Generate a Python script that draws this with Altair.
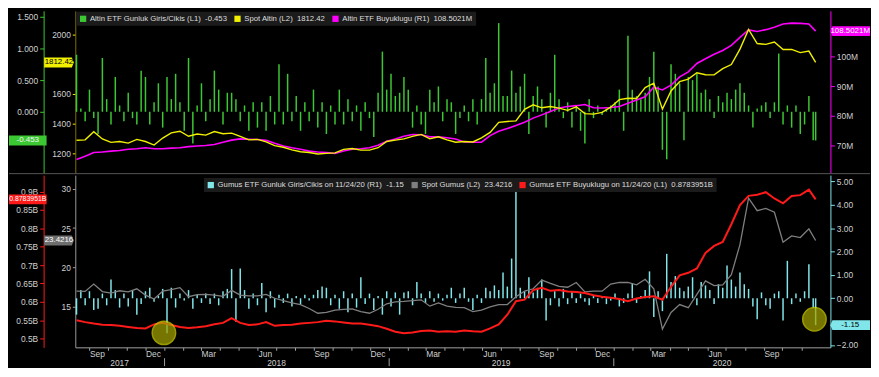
import altair as alt
import pandas as pd

# ---------------- data ----------------
series_start = "2017-08-11"
last_day = "2020-11-24"

# bi-weekly line values (last entry = 2020-11-24)
gold_spot = [1288, 1291, 1346, 1297, 1274, 1280, 1269, 1294, 1280, 1256,
             1303, 1338, 1349, 1315, 1330, 1323, 1347, 1332, 1336, 1314,
             1291, 1294, 1278, 1252, 1241, 1223, 1211, 1206, 1196, 1200,
             1203, 1227, 1233, 1222, 1222, 1238, 1280, 1289, 1298, 1314,
             1328, 1298, 1312, 1291, 1275, 1280, 1277, 1305, 1341, 1409,
             1415, 1419, 1497, 1527, 1507, 1516, 1505, 1490, 1514, 1468,
             1464, 1476, 1511, 1562, 1571, 1570, 1643, 1673, 1498, 1620,
             1683, 1700, 1743, 1730, 1729, 1771, 1798, 1902, 2035, 1940,
             1934, 1950, 1900, 1900, 1879, 1889, 1812.42]
gold_etf = [65.3, 66.4, 67.6, 67.8, 68.1, 68.3, 68.7, 68.9, 69.2, 68.9,
            68.9, 69.1, 69.2, 69.6, 69.8, 70.0, 70.3, 71.1, 71.8, 72.2,
            72.1, 72.0, 71.7, 70.7, 69.8, 69.2, 68.7, 68.1, 67.8, 67.6,
            67.3, 68.1, 68.7, 68.9, 69.2, 70.1, 71.4, 72.2, 73.1, 73.7,
            73.6, 72.9, 72.9, 72.6, 72.2, 71.2, 71.1, 71.1, 73.3, 74.8,
            75.7, 76.7, 77.8, 79.2, 80.3, 81.4, 82.6, 83.1, 83.4, 83.8,
            82.7, 82.6, 82.8, 83.1, 84.2, 85.3, 86.4, 89.6, 88.7, 90.3,
            93.1, 94.8, 97.6, 99.2, 100.7, 102.0, 103.7, 106.4, 108.9, 108.4,
            109.0, 109.8, 110.9, 111.2, 111.1, 110.9, 108.5021]
silver_spot = [17.0, 16.97, 17.9, 16.95, 16.75, 17.05, 16.9, 17.3, 16.5, 16.0,
               17.0, 17.2, 17.45, 16.3, 16.55, 16.6, 16.5, 16.35, 17.1, 16.5,
               16.4, 16.4, 16.6, 16.1, 15.8, 15.5, 15.3, 14.8, 14.2, 14.3,
               14.6, 14.7, 14.75, 14.4, 14.2, 14.7, 15.4, 15.65, 15.7, 15.8,
               15.9, 15.1, 15.5, 15.1, 14.95, 14.9, 14.4, 14.6, 15.0, 15.3,
               15.3, 16.3, 17.0, 17.3, 18.4, 18.0, 17.6, 17.5, 18.1, 16.9,
               17.0, 17.0, 17.9, 18.1, 18.1, 17.8, 18.5, 17.3, 12.2, 14.3,
               15.3, 14.9, 16.6, 18.3, 17.7, 17.8, 19.1, 22.9, 28.8, 27.2,
               27.5, 27.0, 23.2, 24.0, 23.8, 24.9, 23.4216]
silver_etf = [0.550, 0.545, 0.541, 0.538, 0.537, 0.535, 0.532, 0.529, 0.528, 0.539,
              0.543, 0.537, 0.532, 0.529, 0.531, 0.534, 0.539, 0.543, 0.556, 0.543,
              0.537, 0.539, 0.545, 0.535, 0.537, 0.538, 0.541, 0.543, 0.545, 0.549,
              0.547, 0.544, 0.541, 0.541, 0.538, 0.534, 0.527, 0.519, 0.515, 0.517,
              0.521, 0.522, 0.519, 0.520, 0.519, 0.522, 0.520, 0.519, 0.528, 0.539,
              0.565, 0.602, 0.606, 0.632, 0.638, 0.630, 0.632, 0.628, 0.627, 0.624,
              0.618, 0.614, 0.611, 0.608, 0.602, 0.609, 0.613, 0.615, 0.606, 0.641,
              0.672, 0.679, 0.691, 0.733, 0.752, 0.763, 0.811, 0.863, 0.888, 0.891,
              0.898, 0.881, 0.868, 0.888, 0.890, 0.905, 0.8783951]

# weekly flow bars (last entry = 2020-11-24)
gold_flow = [0.9, 0.05, -0.15, 0.35, -0.1, -0.35, 0.85, 0.2, -0.2, 0.55,
             0.1, -0.15, 0.3, -0.1, -0.2, 0.65, 0.55, -0.2, 0.15, 0.45,
             -0.25, 0.55, 0.2, 0.6, 0.15, -0.3, 0.85, -0.5, 0.1, 0.45,
             -0.15, 0.2, 0.65, 0.35, -0.2, 0.3, 0.3, 0.2, -0.15, 0.1,
             -0.3, 0.15, -0.25, 0.15, -0.3, 0.25, -0.2, 0.75, -0.2, 0.6,
             -0.15, 0.25, -0.3, 0.15, -0.15, 0.35, -0.25, 0.15, -0.35, 0.1,
             -0.2, 0.35, -0.2, 0.2, -0.15, 0.1, -0.3, 0.15, -0.1, -0.4,
             0.3, 0.95, 0.35, 0.6, 0.25, 0.3, 0.55, 0.35, -0.25, 0.1,
             -0.2, -0.35, 0.35, 0.15, 0.4, -0.15, 0.2, 0.15, -0.35, -0.1,
             0.1, -0.15, 0.2, -0.2, 0.2, 0.85, 0.3, 0.45, 1.4, 0.25,
             0.25, 0.65, 0.3, 0.4, 0.6, -0.35, 0.25, 0.4, 0.2, -0.25,
             0.3, 0.9, 0.2, -0.1, 0.15, -0.25, 0.1, -0.3, -0.5, 0.2,
             -0.1, 0.1, -0.05, 0.05, 0.1, 0.15, 0.35, -0.3, 1.2, 0.35,
             0.25, 0.2, 0.3, 0.55, 0.95, 0.4, -0.6, -0.75, 0.75, 0.6,
             0.45, -0.45, 0.55, 0.5, 0.6, 0.3, 0.35, 0.2, -0.1, 0.25,
             0.15, 0.3, 0.2, 0.35, 0.45, 0.3, 0.1, -0.25, 0.05, 0.1,
             0.15, -0.1, 0.15, 0.92, -0.2, 0.1, -0.25, 0.1, -0.35, -0.2,
             0.25, -0.45, -0.453]
silver_flow = [-0.7, 0.35, -0.3, 0.3, -0.5, -0.45, 0.2, -0.3, 0.8, 0.35,
               -0.4, 0.2, -0.35, 0.35, -0.7, -0.25, 0.3, 0.45, -0.15, 0.1,
               0.4, -1.5, 0.45, -0.4, 0.2, -0.1, 0.35, -0.45, 0.15, -0.2,
               0.2, -0.25, 0.2, -0.3, 0.3, 0.4, 1.25, -1.0, 1.27, 0.35,
               -0.45, 0.2, -0.3, 0.65, -0.6, 0.3, -0.4, 0.15, -0.2, 0.2,
               -0.35, 0.1, -0.25, 0.15, -0.1, 0.15, 0.35, 0.5, 0.45, -0.3,
               0.15, -0.45, 0.3, -0.6, 0.2, -0.4, 0.9, -0.25, 0.2, -0.5,
               0.1, -0.7, 0.3, -0.35, 0.25, -0.7, 0.25, 0.3, -0.3, 0.7,
               0.2, -0.2, 0.3, -0.15, 0.2, -0.1, 0.15, 0.45, -0.2, 0.2,
               0.45, -0.15, -0.5, 0.15, -0.2, 0.45, 0.3, 0.55, 0.35, 1.1,
               0.5, 1.7, 4.65, 0.45, 0.3, 0.9, 0.25, 0.45, 0.8, -0.95,
               -0.3, 0.3, -0.35, 0.4, -0.25, 0.3, -0.2, 0.2, -0.15, -0.3,
               0.1, -0.2, 0.1, -0.25, -0.1, 0.2, -0.35, -0.2, 0.2, 0.65,
               -0.2, 0.1, 0.35, 1.15, -0.8, 0.3, -0.55, 1.9, 0.7, 0.95,
               0.45, 0.3, 0.5, 0.9, -0.3, 0.7, 0.55, 0.35, -0.25, 0.6,
               0.45, 1.4, 0.8, 0.5, 1.1, 0.6, 0.4, -0.35, -0.9, 0.25,
               -0.3, -0.45, 0.2, 0.3, -0.95, 1.6, -0.25, 0.2, -0.15, 0.3,
               1.45, -0.4, -1.15]

top_names = ["Altin ETF Gunluk Giris/Cikis (L1)", "Spot Altin (L2)", "Altin ETF Buyuklugu (R1)"]
bottom_names = ["Gumus ETF Gunluk Giris/Cikis on 11/24/20 (R1)", "Spot Gumus (L2)",
                "Gumus ETF Buyuklugu on 11/24/20 (L1)"]
year_labels = ["2017", "2018", "2019", "2020"]
highlight_dates = ["2017-12-31", "2020-11-22"]
highlight_values = [-1.48, -0.90]

# visible tick labels (the ones hidden behind value tags are left out)
top_l1_ticks = [0, 0.5, 1, 1.5]
top_l2_ticks = [1200, 1400, 1600, 2000]
top_r1_ticks = [70, 80, 90, 100]
bot_l1_ticks = [0.5, 0.55, 0.6, 0.65, 0.7, 0.75, 0.8, 0.85, 0.9]
bot_l2_ticks = [15, 20, 25, 30]
bot_r1_ticks = [-2, 0, 1, 2, 3, 4, 5]

# ---------------- tables ----------------
line_dates = [d.strftime("%Y-%m-%d") for d in
              pd.date_range(series_start, periods=len(gold_spot) - 1, freq="14D")] + [last_day]
bar_dates = [d.strftime("%Y-%m-%d") for d in
             pd.date_range(series_start, periods=len(gold_flow) - 1, freq="7D")] + [last_day]
lines = pd.DataFrame({"date": line_dates, "gold_spot": gold_spot, "gold_etf": gold_etf,
                      "silver_spot": silver_spot, "silver_etf": silver_etf})
bars = pd.DataFrame({"date": bar_dates, "gold_flow": gold_flow, "silver_flow": silver_flow})

GAP = "\u00a0\u00a0"
top_labels = [f"{top_names[0]}{GAP}{gold_flow[-1]:.3f}", f"{top_names[1]}{GAP}{gold_spot[-1]:.2f}",
              f"{top_names[2]}{GAP}{gold_etf[-1]:.4f}M"]
bottom_labels = [f"{bottom_names[0]}{GAP}{silver_flow[-1]:.2f}", f"{bottom_names[1]}{GAP}{silver_spot[-1]:.4f}",
                 f"{bottom_names[2]}{GAP}{silver_etf[-1]:.7f}B"]

# ---------------- style ----------------
W, H1, H2 = 763, 164, 174
FONT = "Liberation Sans Narrow, Liberation Sans, sans-serif"
LEG_FONT = "Liberation Sans"
LABEL = "#cfcfcf"
GREEN, YELLOW, MAGENTA = "#3cc832", "#f0f000", "#ff00ff"
CYAN, GRAY, RED = "#80e6ea", "#8a8a8a", "#ff1a1a"
FS = 8.5

dom_lo, dom_hi = pd.Timestamp("2017-08-09"), pd.Timestamp("2020-12-18")
X_SCALE = alt.Scale(domain=[alt.DateTime(year=dom_lo.year, month=dom_lo.month, date=dom_lo.day),
                            alt.DateTime(year=dom_hi.year, month=dom_hi.month, date=dom_hi.day)],
                    nice=False, padding=0)
XN = alt.X("date:T", scale=X_SCALE, axis=None)

month_ticks = [alt.DateTime(year=d.year, month=d.month, date=1)
               for d in pd.date_range("2017-09-01", "2020-11-01", freq="MS")]
x_axis = alt.Axis(values=month_ticks, title=None, grid=False,
                  labelExpr="month(datum.value) % 3 == 2 ? timeFormat(datum.value, '%b') : ''",
                  labelOffset=7.5, tickSize=3, labelPadding=-1, domainColor="#a0a0a0",
                  tickColor="#a0a0a0", labelColor=LABEL, labelFont=FONT, labelFontSize=FS,
                  labelOverlap=False, labelFlush=False)
XB = alt.X("date:T", scale=X_SCALE, axis=x_axis)

TOP_FLOW_DOM = [-0.969, 1.594]
GOLD_DOM = [1066.7, 2160]
GETF_DOM = [60.67, 115.33]
SETF_DOM = [0.4765, 0.9444]
SSPOT_DOM = [9.878, 31.71]
SFLOW_DOM = [-2.099, 5.267]


def ys(dom):
    return alt.Scale(domain=dom, nice=False, zero=False)


def yaxis(orient, offset, values, color, domain_color=None, fmt=None, expr=None, tick=4):
    kw = dict(orient=orient, offset=offset, values=values, title=None, grid=False,
              domainColor=domain_color or color, tickColor=color, tickSize=tick,
              labelColor=LABEL, labelFont=FONT, labelFontSize=FS, labelPadding=2,
              labelOverlap=False)
    if fmt:
        kw["format"] = fmt
    if expr:
        kw["labelExpr"] = expr
    return alt.Axis(**kw)


def legend(x, y):
    return alt.Legend(title=None, orient="none", legendX=x, legendY=y, offset=0,
                      direction="horizontal", fillColor="#1b1b1b", padding=3,
                      symbolType="square", symbolSize=40, symbolStrokeWidth=0,
                      labelColor="#dedede", labelFont=LEG_FONT, labelFontSize=7.8, labelLimit=500,
                      columnPadding=6, labelOffset=3)


LEFT_BOX = "M-1.9,-0.5H1.9V0.5H-1.9Z"
MID_TAG = "M-1.5,-0.5H1.3L1.5,0L1.3,0.5H-1.5Z"
RIGHT_TAG = "M-2,0L-1.8,-0.5H2V0.5H-1.8Z"


def tag(value, text, dom, shape, xc, fill, tcolor, size=8):
    df = pd.DataFrame({"v": [value], "t": [text]})
    base = alt.Chart(df)
    y = alt.Y("v:Q", scale=ys(dom), axis=None)
    box = base.mark_point(shape=shape, filled=True, size=400, opacity=1, color=fill,
                          strokeWidth=0).encode(x=alt.value(xc), y=y)
    txt = base.mark_text(align="center", baseline="middle", font=FONT, fontSize=size,
                         color=tcolor).encode(x=alt.value(xc), y=y, text="t:N")
    return [box, txt]


# ---------------- top panel (gold) ----------------
tcol = lambda: alt.Color("series:N", scale=alt.Scale(domain=top_labels, range=[GREEN, YELLOW, MAGENTA]),
                         legend=legend(1, 1))
g_bars = alt.Chart(bars).transform_calculate(series=f"'{top_labels[0]}'").mark_bar(size=1.5).encode(
    x=XN, y=alt.Y("gold_flow:Q", scale=ys(TOP_FLOW_DOM),
                  axis=yaxis("left", 32, top_l1_ticks, GREEN, fmt=".3f")),
    color=tcol())
g_etf = alt.Chart(lines).transform_calculate(series=f"'{top_labels[2]}'").mark_line(strokeWidth=1.6).encode(
    x=XN, y=alt.Y("gold_etf:Q", scale=ys(GETF_DOM),
                  axis=yaxis("right", 0, top_r1_ticks, MAGENTA, expr="datum.value + 'M'")),
    color=tcol())
g_spot = alt.Chart(lines).transform_calculate(series=f"'{top_labels[1]}'").mark_line(strokeWidth=1.4).encode(
    x=XN, y=alt.Y("gold_spot:Q", scale=ys(GOLD_DOM),
                  axis=yaxis("left", 0, top_l2_ticks, YELLOW, domain_color="#7d6f00", fmt="d", tick=3)),
    color=tcol())
sep = alt.Chart(pd.DataFrame({"k": [0]})).mark_rule(color="#555555", strokeWidth=1).encode(
    x=alt.value(-67), x2=alt.value(803), y=alt.value(H1 + 0.5))

top_layers = [g_bars, g_etf, g_spot, sep]
top_layers += tag(gold_flow[-1], f"{gold_flow[-1]:.3f}", TOP_FLOW_DOM, LEFT_BOX, -48, GREEN, "#f4f4f4")
top_layers += tag(gold_spot[-1], f"{gold_spot[-1]:.2f}", GOLD_DOM, MID_TAG, -16.5, YELLOW, "#000000")
top_layers += tag(gold_etf[-1], f"{gold_etf[-1]:.4f}M", GETF_DOM, RIGHT_TAG, 783, MAGENTA, "#ffffff")
top = alt.layer(*top_layers).resolve_scale(y="independent").properties(width=W, height=H1)

# ---------------- bottom panel (silver) ----------------
bcol = lambda: alt.Color("series:N", scale=alt.Scale(domain=bottom_labels, range=[CYAN, "#7f7f7f", RED]),
                         legend=legend(130, 3))
s_bars = alt.Chart(bars).transform_calculate(series=f"'{bottom_labels[0]}'").mark_bar(size=1.5).encode(
    x=XB,
    y=alt.Y("silver_flow:Q", scale=ys(SFLOW_DOM),
            axis=yaxis("right", 0, bot_r1_ticks, CYAN, fmt=".2f")),
    color=bcol())
s_spot = alt.Chart(lines).transform_calculate(series=f"'{bottom_labels[1]}'").mark_line(strokeWidth=1.3).encode(
    x=XB, y=alt.Y("silver_spot:Q", scale=ys(SSPOT_DOM),
                  axis=yaxis("left", 0, bot_l2_ticks, "#9a9a9a", fmt="d", tick=3)),
    color=bcol())
s_etf = alt.Chart(lines).transform_calculate(series=f"'{bottom_labels[2]}'").mark_line(strokeWidth=2).encode(
    x=XB, y=alt.Y("silver_etf:Q", scale=ys(SETF_DOM),
                  axis=yaxis("left", 32, bot_l1_ticks, RED, expr="format(datum.value, '.2~f') + 'B'")),
    color=bcol())

hl = alt.Chart(pd.DataFrame({"date": highlight_dates, "v": highlight_values})).mark_circle(
    size=560, color="#a3a300", opacity=0.72, stroke="#d6d600", strokeWidth=1.5).encode(
    x=XB, y=alt.Y("v:Q", scale=ys(SFLOW_DOM), axis=None))

mids = []
for yl in year_labels:
    lo = max(pd.Timestamp(f"{yl}-01-01"), dom_lo)
    hi = min(pd.Timestamp(f"{int(yl) + 1}-01-01"), dom_hi)
    mids.append((lo + (hi - lo) / 2).strftime("%Y-%m-%d"))
years = alt.Chart(pd.DataFrame({"date": mids, "label": year_labels})).mark_text(
    font=FONT, fontSize=FS, color=LABEL, baseline="middle").encode(
    x=XB, y=alt.value(H2 + 15.5), text="label:N")
year_bounds = alt.Chart(pd.DataFrame({"date": [f"{y}-01-01" for y in year_labels[1:]]})).mark_rule(
    color="#a0a0a0").encode(x=XB, y=alt.value(H2 + 11), y2=alt.value(H2 + 19))

bottom_layers = [s_bars, s_spot, s_etf, hl, years, year_bounds]
bottom_layers += tag(silver_etf[-1], f"{silver_etf[-1]:.7f}B", SETF_DOM, LEFT_BOX, -48, RED, "#ffffff", 7)
bottom_layers += tag(silver_spot[-1], f"{silver_spot[-1]:.4f}", SSPOT_DOM, MID_TAG, -16.5, "#6e6e6e", "#ffffff")
bottom_layers += tag(silver_flow[-1], f"{silver_flow[-1]:.2f}", SFLOW_DOM, RIGHT_TAG, 783, CYAN, "#000000")
bottom = alt.layer(*bottom_layers).resolve_scale(y="independent").properties(width=W, height=H2)

chart = alt.vconcat(top, bottom, spacing=1).resolve_scale(color="independent").properties(
    padding={"left": 0, "top": 1, "right": 0, "bottom": -1}
).configure(background="#000000").configure_view(stroke=None)

chart.save("out.html", embed_options={"renderer": "svg", "actions": False})
